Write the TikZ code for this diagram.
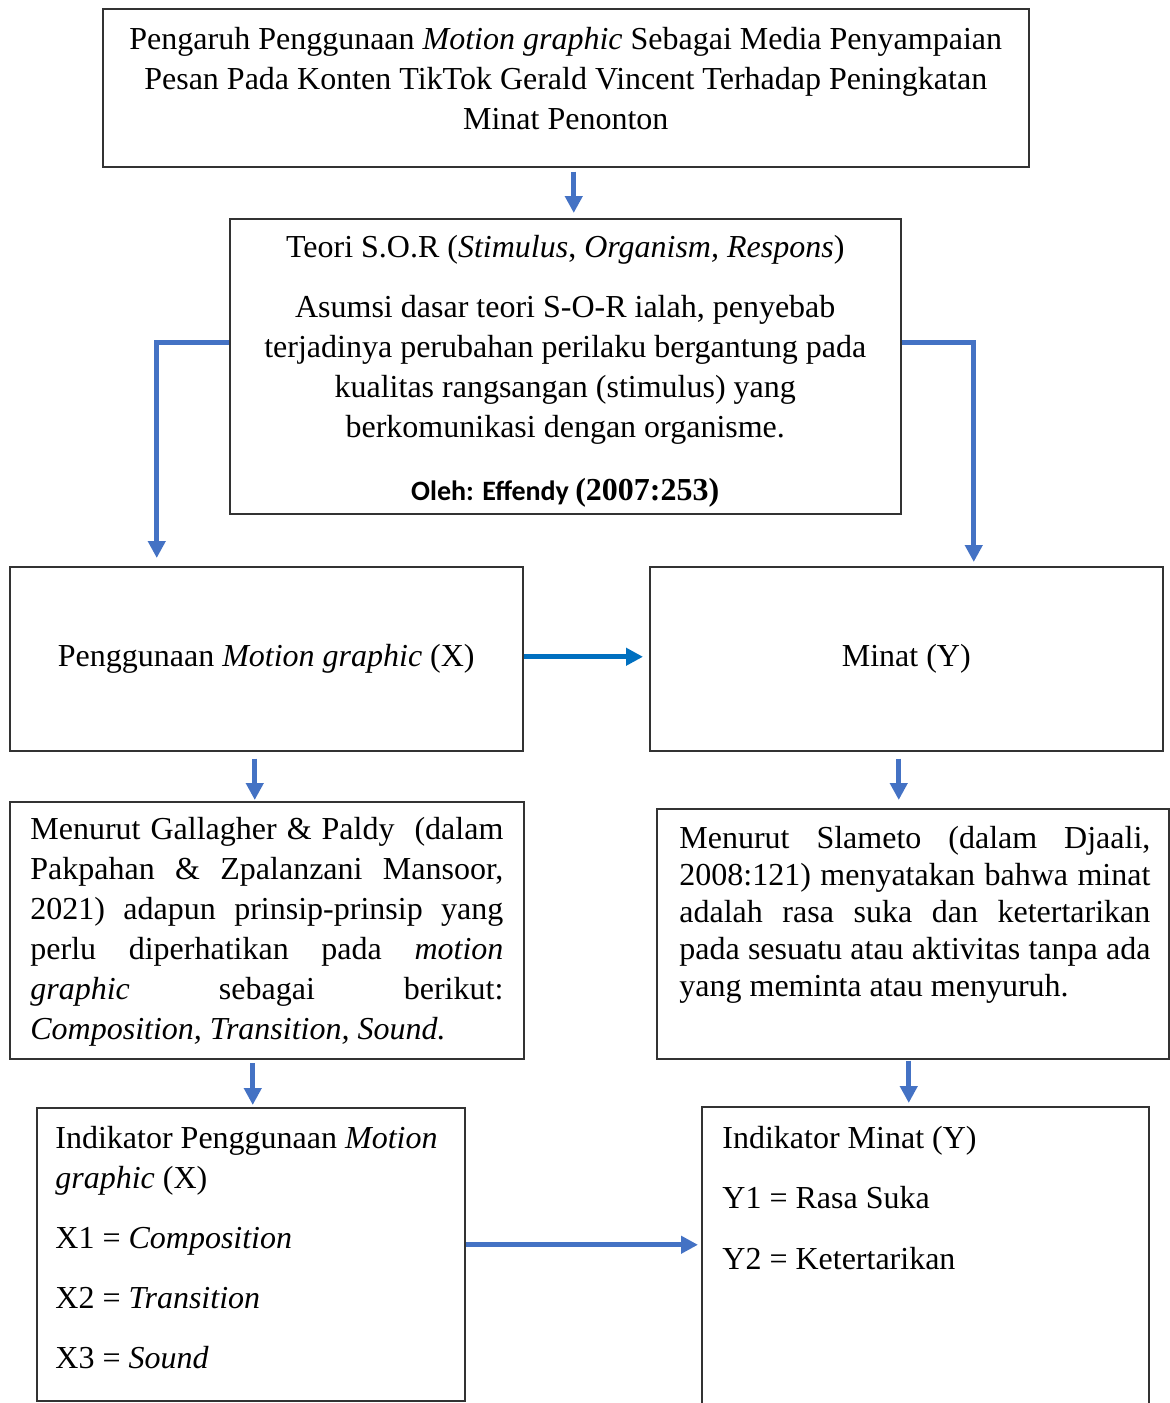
\documentclass[tikz,border=0pt]{standalone}
\usepackage{fontspec}
\setmainfont{Liberation Serif}
\newfontfamily\calibri{Carlito}
\usetikzlibrary{arrows.meta, positioning}
\definecolor{biru}{HTML}{4472C4}
\definecolor{birutua}{HTML}{0070C0}

\begin{document}
\begin{tikzpicture}[x=0.5pt,y=-0.5pt,font=\fontsize{16}{20}\selectfont]
\tikzstyle{kotak}=[draw=black!80, line width=0.75pt, inner sep=0pt, anchor=north west]
\tikzstyle{teks}=[inner sep=0pt]
\tikzstyle{panah}=[draw=biru, line width=2.4pt, -{Triangle[width=8.5pt,length=8.5pt]}]

\useasboundingbox (0,0) rectangle (1170,1403);

% kotak
\node[kotak, minimum width=463pt, minimum height=79pt] (judul) at (102,8) {};
\node[kotak, minimum width=335.5pt, minimum height=147.5pt] (sor) at (229,218) {};
\node[kotak, minimum width=256.5pt, minimum height=92pt] (vx) at (9,566) {Penggunaan \textit{Motion graphic} (X)};
\node[kotak, minimum width=256.5pt, minimum height=92pt] (vy) at (649,566) {Minat (Y)};
\node[kotak, minimum width=257pt, minimum height=128.5pt] (teorix) at (9,801) {};
\node[kotak, minimum width=256pt, minimum height=125pt] (teoriy) at (656,808) {};
\node[kotak, minimum width=214pt, minimum height=146.5pt] (indx) at (36,1107) {};
\node[kotak, minimum width=223.5pt, minimum height=160pt] (indy) at (701,1106) {};

% isi kotak
\node[teks, align=center, below=9.2pt of judul.north] (judulteks) {Pengaruh Penggunaan \textit{Motion graphic} Sebagai Media Penyampaian\\
  Pesan Pada Konten TikTok Gerald Vincent Terhadap Peningkatan\\
  Minat Penonton};
\node[teks, align=center, below=8.6pt of sor.north] (sorteks) {Teori S.O.R (\textit{Stimulus}, \textit{Organism, Respons})\\[10pt]
  Asumsi dasar teori S-O-R ialah, penyebab\\
  terjadinya perubahan perilaku bergantung pada\\
  kualitas rangsangan (stimulus) yang\\
  berkomunikasi dengan organisme.\\[11.5pt]
  {\calibri\bfseries\fontsize{14}{20}\selectfont Oleh: Effendy }\textbf{(2007:253)}};
\node[teks, text width=236.5pt, align=justify, below right=8.1pt and 10.5pt of teorix.north west] (teorixteks)
  {Menurut Gallagher \& Paldy\ \ (dalam\linebreak Pakpahan \& Zpalanzani Mansoor,\linebreak 2021) adapun prinsip-prinsip yang\linebreak perlu diperhatikan pada \textit{motion}\linebreak \textit{graphic} sebagai berikut:\linebreak \textit{Composition, Transition, Sound.}};
\node[teks, text width=235.5pt, align=justify, font=\fontsize{16}{18.5}\selectfont, below right=9.1pt and 11.5pt of teoriy.north west] (teoriyteks)
  {Menurut Slameto (dalam Djaali,\linebreak 2008:121) menyatakan bahwa minat\linebreak adalah rasa suka dan ketertarikan\linebreak pada sesuatu atau aktivitas tanpa ada\linebreak yang meminta atau menyuruh.};
\node[teks, align=left, below right=9.2pt and 9.5pt of indx.north west] (indxteks) {Indikator Penggunaan \textit{Motion}\\
  \textit{graphic} (X)\\[10pt]
  X1 = \textit{Composition}\\[10pt]
  X2 = \textit{Transition}\\[10pt]
  X3 = \textit{Sound}};
\node[teks, align=left, below right=9.8pt and 10.5pt of indy.north west] (indyteks) {Indikator Minat (Y)\\[10pt]
  Y1 = Rasa Suka\\[10.5pt]
  Y2 = Ketertarikan};

% panah
\draw[panah, shorten <=2pt, shorten >=2.5pt] ([xshift=4pt]judul.south) -- ([xshift=4.25pt]sor.north);
\draw[panah, shorten >=4pt] ([yshift=11.75pt]sor.west) -| ([xshift=-54.75pt]vx.north);
\draw[panah, shorten >=2pt] ([yshift=11.75pt]sor.east) -| ([xshift=33.75pt]vy.north);
\draw[panah, draw=birutua, line width=2.5pt, shorten >=3pt] ([yshift=1pt]vx.east) -- ([yshift=1pt]vy.west);
\draw[panah, shorten <=3.5pt, shorten >=0.5pt] ([xshift=-5.75pt]vx.south) -- ([xshift=-6pt]teorix.north);
\draw[panah, shorten <=3.5pt, shorten >=4pt] ([xshift=-3.75pt]vy.south) -- ([xshift=-7pt]teoriy.north);
\draw[panah, shorten <=1.75pt, shorten >=1pt] ([xshift=-7pt]teorix.south) -- ([xshift=1pt]indx.north);
\draw[panah, shorten <=0.5pt, shorten >=1.5pt] ([xshift=-2pt]teoriy.south) -- ([xshift=-8.25pt]indy.north);
\draw[panah, shorten >=1.5pt] ([yshift=4.75pt]indx.east) -- ([yshift=11pt]indy.west);
\end{tikzpicture}
\end{document}
